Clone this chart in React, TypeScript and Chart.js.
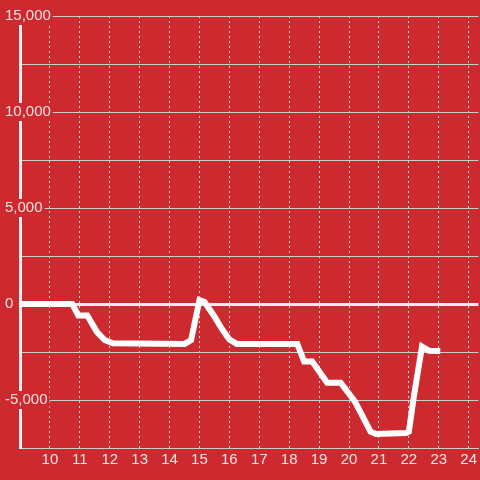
import React, { useEffect, useRef } from 'react';
import { Chart, registerables } from 'chart.js';

Chart.register(...registerables);

// Data (hour of day, value)
const hours = [9, 10.75, 10.95, 11.25, 11.57, 11.83, 12.1, 14.5, 14.72, 15.0, 15.17, 15.5, 15.75, 16.0, 16.25, 18.27, 18.5, 18.77, 19.27, 19.72, 20.2, 20.72, 20.9, 21.9, 22.0, 22.17, 22.44, 22.67, 23.05];
const values = [0, 0, -600, -600, -1450, -1875, -2050, -2080, -1875, 200, 100, -650, -1300, -1850, -2080, -2080, -3000, -3000, -4100, -4100, -5090, -6650, -6770, -6720, -6650, -4800, -2220, -2430, -2450];

const yMin = -7500;
const yMax = 15000;
const yGridStep = 2500;
const yLabelStep = 5000;
const xMin = 9;
const xMax = 24.33;

const BG = '#cc2a2f';
const TEXT = '#f3e2e2';
const FONT = "'Liberation Sans', Arial, sans-serif";

const bgPlugin = {
  id: 'bgFill',
  beforeDraw(chart: any) {
    const { ctx, width, height } = chart;
    ctx.save();
    ctx.fillStyle = BG;
    ctx.fillRect(0, 0, width, height);
    ctx.restore();
  },
};

export default function App() {
  const ref = useRef<HTMLCanvasElement | null>(null);

  useEffect(() => {
    if (!ref.current) return;
    const chart = new Chart(ref.current, {
      type: 'line',
      data: {
        datasets: [
          {
            data: hours.map((h, i) => ({ x: h, y: values[i] })),
            borderColor: '#ffffff',
            borderWidth: 6,
            pointRadius: 0,
            tension: 0,
            fill: false,
          },
        ],
      },
      options: {
        animation: false,
        responsive: false,
        maintainAspectRatio: false,
        layout: { padding: { top: 16, left: 5, right: 0, bottom: 0 } },
        plugins: { legend: { display: false }, tooltip: { enabled: false } },
        scales: {
          x: {
            type: 'linear',
            min: xMin,
            max: xMax,
            afterFit: (s: any) => { s.height = 32; },
            ticks: {
              stepSize: 1,
              includeBounds: false,
              color: TEXT,
              font: { family: FONT, size: 15 },
              padding: 3,
              maxRotation: 0,
              autoSkip: false,
              callback: (v: any) => (v === xMin ? '' : String(v)),
            },
            grid: {
              color: '#dddddd',
              lineWidth: 1,
              drawTicks: false,
            },
            border: { color: '#cccccc', width: 1, dash: [2, 3] } as any,
          },
          y: {
            type: 'linear',
            min: yMin,
            max: yMax,
            afterFit: (s: any) => { s.width = 15; },
            ticks: {
              stepSize: yGridStep,
              color: TEXT,
              font: { family: FONT, size: 15 },
              mirror: true,
              crossAlign: 'near',
              padding: -15,
              showLabelBackdrop: true,
              backdropColor: BG,
              backdropPadding: { x: 2, y: 0 },
              callback: (v: any) => (Number(v) % yLabelStep === 0 ? Number(v).toLocaleString('en-US') : ''),
            } as any,
            grid: {
              color: (c: any) => (c.tick && c.tick.value === 0 ? '#eeeeee' : '#cccccc'),
              lineWidth: (c: any) => (c.tick && c.tick.value === 0 ? 3 : 1),
              drawTicks: false,
            },
            border: { color: '#eeeeee', width: 3 },
          },
        },
      },
      plugins: [bgPlugin],
    } as any);
    return () => chart.destroy();
  }, []);

  return (
    <div style={{ position: 'fixed', left: 0, top: 0, width: 480, height: 480, background: BG }}>
      <canvas ref={ref} width={480} height={480} style={{ display: 'block' }} />
    </div>
  );
}
